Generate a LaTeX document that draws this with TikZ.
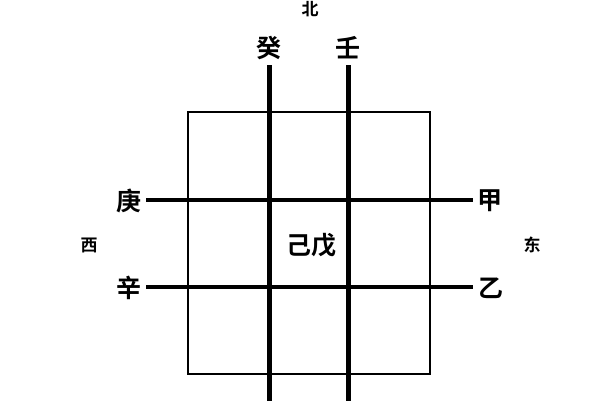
\documentclass[tikz,border=0pt]{standalone}
\usepackage{fontspec}
\newfontfamily\cjk{Noto Sans CJK SC}[BoldFont={Noto Sans CJK SC Bold}]
\begin{document}
\begin{tikzpicture}[x=1pt,y=-1pt,
  big/.style={font=\cjk\bfseries\fontsize{25}{25}\selectfont, inner sep=0pt},
  small/.style={font=\cjk\bfseries\fontsize{17}{17}\selectfont, inner sep=0pt},
  axis/.style={line width=5pt},
  frame/.style={line width=2.2pt}]
\useasboundingbox (0,0) rectangle (600,400);
\fill[white] (0,0) rectangle (600,400);
% frame
\draw[frame] (188,112) rectangle (430,374);
% coordinates for lines
\coordinate (v1t) at (269,65);
\coordinate (v1b) at (269,402);
\coordinate (v2t) at (348.5,65);
\coordinate (v2b) at (348.5,402);
\coordinate (h1l) at (146,200);
\coordinate (h1r) at (473,200);
\coordinate (h2l) at (146,287);
\coordinate (h2r) at (473,287);
\draw[axis] (v1t) -- (v1b);
\draw[axis,line width=4.5pt] (v2t) -- (v2b);
\draw[axis,line width=4.5pt] (h1l) -- (h1r);
\draw[axis,line width=4.5pt] (h2l) -- (h2r);
% labels
\node[small] (bei) at (310,9) {北};
\node[big] (gui) at (269,48) {癸};
\node[big] (ren) at (348,48) {壬};
\node[big] (geng) at (129,201) {庚};
\node[big] (xin) at (129,288) {辛};
\node[big] (jia) at (490,201) {甲};
\node[big] (yi) at (491,288) {乙};
\node[small] (xi) at (89,245) {西};
\node[small] (dong) at (532,245) {东};
\node[big] (ji) at (311,245) {己戊};
\end{tikzpicture}
\end{document}
